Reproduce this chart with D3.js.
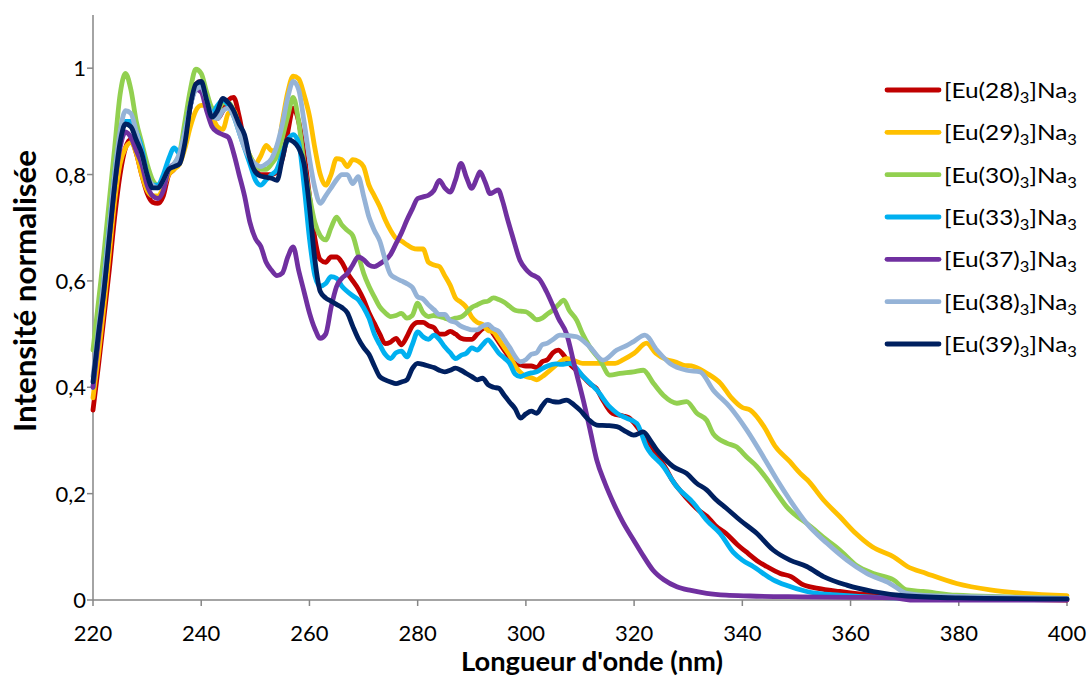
<!DOCTYPE html>
<html>
<head>
<meta charset="utf-8">
<script src="https://cdn.jsdelivr.net/npm/d3@7"></script>
<style>
  html, body { margin: 0; padding: 0; background: #fff; }
  svg { display: block; }
  text { font-family: Lato, "Open Sans", sans-serif; fill: #000; }
</style>
</head>
<body>
<svg id="chart" width="1089" height="677"></svg>
<script>
// ---------- DATA ----------
const xTicks = [220, 240, 260, 280, 300, 320, 340, 360, 380, 400];
const yTicks = [0, 0.2, 0.4, 0.6, 0.8, 1];
const yTickLabels = ["0", "0,2", "0,4", "0,6", "0,8", "1"];
const seriesNames = ["28", "29", "30", "33", "37", "38", "39"];
const seriesColors = ["#C00000", "#FFC000", "#92D050", "#00B0F0", "#7030A0", "#95B3D7", "#002060"];
const xTitle = "Longueur d'onde (nm)";
const yTitle = "Intensité normalisée";

const eu28 = [[220,.357],[221,.44],[222,.53],[223,.62],[224,.72],[225,.80],[226,.85],[227,.866],[228,.84],[229,.80],[230,.765],[231,.748],[232,.746],[233,.76],[234,.80],[235,.81],[236,.83],[237,.87],[238,.93],[239,.97],[240,.975],[241,.95],[242,.915],[243,.905],[244,.92],[245,.94],[246,.945],[247,.91],[248,.86],[249,.83],[250,.81],[251,.80],[252,.80],[253,.80],[254,.805],[255,.83],[256,.88],[257,.925],[258,.90],[259,.84],[260,.76],[261,.68],[262,.64],[263,.635],[264,.645],[265,.645],[266,.635],[267,.615],[268,.60],[269,.585],[270,.565],[271,.54],[272,.52],[273,.50],[274,.482],[275,.485],[276,.492],[277,.48],[278,.495],[279,.515],[280,.522],[281,.522],[282,.516],[283,.512],[284,.50],[285,.50],[286,.505],[287,.50],[288,.492],[289,.49],[290,.49],[291,.50],[292,.51],[293,.514],[294,.50],[295,.485],[296,.47],[297,.455],[298,.445],[299,.442],[300,.44],[301,.44],[302,.437],[303,.448],[304,.452],[305,.465],[306,.47],[307,.46],[308,.445],[310,.426],[312,.405],[313,.398],[314,.38],[316,.351],[318,.346],[319,.343],[321,.32],[322.5,.30],[324,.276],[326,.245],[327,.226],[329,.20],[330,.188],[332,.168],[333.5,.157],[335,.14],[337,.125],[339,.105],[341,.088],[343,.072],[344.5,.063],[347,.05],[349,.044],[351,.03],[354,.022],[358,.016],[364,.009],[370,.005],[380,.003],[400,.0]];

const eu29 = [[220,.38],[221,.46],[222,.55],[223,.65],[224,.75],[225,.82],[226,.85],[227,.86],[228,.84],[229,.80],[230,.77],[231,.76],[232,.76],[233,.775],[234,.80],[235,.81],[236,.82],[237,.85],[238,.89],[239,.92],[240,.93],[241,.93],[242,.91],[243,.89],[244,.885],[245,.915],[246,.92],[247,.89],[248,.86],[249,.835],[250,.82],[251,.835],[252,.855],[253,.845],[254,.845],[255,.90],[256,.955],[257,.985],[258,.98],[259,.95],[260,.91],[261,.85],[262,.80],[263,.78],[264,.80],[265,.83],[266,.828],[267,.815],[268,.828],[269,.825],[270,.815],[271,.78],[272,.76],[273,.74],[274,.715],[275,.695],[276,.68],[277,.675],[278,.668],[279,.662],[280,.66],[281,.66],[282,.635],[283,.63],[284,.627],[285,.61],[286,.592],[287,.568],[288,.56],[289,.55],[290,.532],[291,.522],[292,.518],[293,.507],[294,.504],[295,.49],[296,.475],[297,.46],[298,.44],[299,.428],[300,.42],[301,.418],[302,.414],[303,.42],[304,.428],[306,.445],[307.5,.454],[309,.45],[310.5,.445],[313.5,.445],[316.5,.445],[318,.452],[320,.464],[322.3,.483],[324,.464],[326,.452],[327.5,.448],[329,.442],[331,.439],[333.5,.426],[336,.407],[338,.38],[340,.362],[341.5,.357],[344,.326],[346,.29],[348.8,.26],[350.7,.238],[352,.226],[355,.188],[358,.157],[361,.125],[364,.10],[368,.081],[370.5,.063],[374,.05],[379.6,.031],[385.8,.019],[392,.0126],[400,.008]];

const eu30 = [[220,.47],[221,.56],[222,.65],[223,.75],[224,.85],[225,.95],[226,.99],[227,.96],[228,.90],[229,.86],[230,.82],[231,.79],[232,.78],[233,.79],[234,.81],[235,.82],[236,.84],[237,.90],[238,.96],[239,.998],[240,.99],[241,.955],[242,.925],[243,.92],[244,.935],[245,.935],[246,.92],[247,.89],[248,.86],[249,.835],[250,.818],[251,.81],[252,.81],[253,.82],[254,.835],[255,.87],[256,.91],[257,.945],[258,.90],[259,.82],[260,.76],[261,.71],[262,.685],[263,.677],[264,.70],[265,.72],[266,.705],[267,.695],[268,.685],[269,.65],[270,.615],[271,.59],[272,.57],[273,.551],[274,.54],[275,.533],[276,.535],[277,.539],[278,.53],[279,.535],[280,.558],[281,.54],[282,.533],[283,.535],[284,.533],[285,.53],[286,.527],[287,.53],[288,.532],[289,.54],[290,.55],[291,.555],[292,.56],[293,.562],[294,.568],[295,.565],[296,.56],[297,.552],[298,.545],[299,.543],[300,.542],[301,.535],[302,.527],[303,.53],[304,.538],[305,.545],[306,.555],[307,.564],[308,.545],[309.4,.526],[310.5,.50],[311.8,.476],[313.7,.451],[315.5,.423],[317.4,.426],[319.9,.429],[321.7,.432],[323.6,.407],[325.4,.385],[327.9,.37],[329.7,.373],[331.6,.351],[333.4,.338],[334.6,.313],[337.1,.295],[338.9,.288],[340.8,.269],[342.7,.251],[344.5,.228],[346.4,.20],[348.2,.175],[350,.158],[351.9,.144],[355.6,.113],[358,.094],[361.1,.065],[364.2,.05],[367.9,.038],[370.4,.019],[373.4,.016],[379.6,.009],[388.9,.006],[400,.003]];

const eu33 = [[220,.40],[221,.50],[222,.60],[223,.70],[224,.80],[225,.87],[226,.90],[227,.90],[228,.88],[229,.85],[230,.80],[231,.78],[232,.78],[233,.80],[234,.83],[235,.85],[236,.84],[237,.88],[238,.93],[239,.965],[240,.97],[241,.94],[242,.915],[243,.93],[244,.94],[245,.93],[246,.91],[247,.88],[248,.85],[249,.82],[250,.79],[251,.78],[252,.79],[253,.80],[254,.81],[255,.84],[256,.865],[257,.875],[258,.86],[259,.78],[260,.68],[261,.61],[262,.59],[263,.595],[264,.608],[265,.605],[266,.59],[267,.58],[268,.572],[269,.565],[270,.55],[271,.53],[272,.50],[273,.48],[274,.462],[275,.454],[276,.465],[277,.468],[278,.457],[279,.48],[280,.504],[281,.495],[282,.49],[283,.498],[284,.49],[285,.476],[286,.465],[287,.454],[288,.46],[289,.464],[290,.474],[291,.47],[292,.48],[293,.489],[294,.478],[295,.464],[296,.455],[297,.445],[298,.425],[299,.42],[300,.424],[301,.427],[302,.429],[303,.435],[304,.44],[305.5,.444],[306.5,.443],[308.2,.445],[310.6,.42],[313.1,.395],[315.5,.363],[317,.35],[318.6,.342],[320.5,.332],[322.3,.288],[325.4,.251],[327.9,.213],[331,.182],[333.4,.15],[335.9,.125],[338.3,.09],[340,.075],[342,.063],[345.7,.038],[348,.028],[351.9,.016],[358,.009],[365,.005],[380,.003],[400,.002]];

const eu37 = [[220,.40],[221,.49],[222,.58],[223,.68],[224,.78],[225,.85],[226,.88],[227,.87],[228,.845],[229,.82],[230,.78],[231,.76],[232,.755],[233,.77],[234,.81],[235,.82],[236,.83],[237,.87],[238,.93],[239,.96],[240,.955],[241,.92],[242,.89],[243,.88],[244,.875],[245,.87],[246,.84],[247,.80],[248,.76],[249,.71],[250,.68],[251,.665],[252,.635],[253,.62],[254,.61],[255,.615],[256,.645],[257,.664],[258,.62],[259,.58],[260,.54],[261,.51],[262,.492],[263,.50],[264,.55],[265,.589],[266,.605],[267,.614],[268,.63],[269,.645],[270,.64],[271,.63],[272,.627],[273,.632],[274,.639],[275,.65],[276,.67],[277,.69],[278,.714],[279,.735],[280,.755],[281,.758],[282,.761],[283,.77],[284,.789],[285,.775],[286,.767],[287,.79],[288,.821],[289,.795],[290,.774],[291,.795],[291.5,.805],[292.5,.785],[293.4,.764],[294.2,.768],[294.9,.771],[295.7,.75],[296.5,.72],[297.5,.685],[298.9,.639],[300,.622],[300.8,.614],[302.6,.602],[303.8,.58],[305.1,.551],[306,.53],[307.5,.501],[309,.44],[310.6,.376],[311.9,.318],[313.1,.263],[314.6,.22],[316.2,.182],[318,.145],[319.9,.113],[321.7,.083],[323.5,.056],[325.5,.038],[327.9,.025],[330.5,.018],[333.4,.0126],[337,.009],[341.4,.0075],[350.7,.006],[360,.005],[368,.004],[371,.0],[380,.0],[400,.0]];

const eu38 = [[220,.42],[221,.51],[222,.60],[223,.70],[224,.80],[225,.88],[226,.92],[227,.915],[228,.88],[229,.84],[230,.80],[231,.78],[232,.775],[233,.79],[234,.81],[235,.82],[236,.84],[237,.88],[238,.93],[239,.96],[240,.965],[241,.94],[242,.91],[243,.905],[244,.92],[245,.925],[246,.91],[247,.88],[248,.85],[249,.83],[250,.82],[251,.815],[252,.82],[253,.83],[254,.855],[255,.895],[256,.945],[257,.975],[258,.96],[259,.90],[260,.83],[261,.775],[262,.746],[263,.76],[264,.775],[265,.79],[266,.80],[267,.80],[268,.783],[269,.796],[270,.76],[271,.72],[272,.695],[273,.675],[274,.64],[275,.612],[276,.605],[277,.60],[278,.595],[279,.588],[280,.57],[281,.566],[282,.555],[283,.546],[284,.537],[285,.537],[286,.525],[287,.522],[288,.515],[289,.511],[290,.508],[291,.508],[292,.515],[293,.518],[294,.51],[295,.505],[296,.49],[297,.475],[298,.458],[299,.448],[300,.452],[301,.462],[302,.465],[303,.48],[304,.483],[305,.49],[306.3,.498],[308,.497],[309.4,.495],[311.8,.476],[314.3,.451],[316.8,.47],[318.5,.478],[319.9,.486],[322,.498],[324.2,.47],[326.6,.445],[329.7,.432],[332.2,.429],[334.6,.395],[337.7,.363],[340.8,.32],[343.9,.269],[346.4,.226],[348.8,.188],[351.9,.144],[355.6,.107],[359.3,.075],[363,.05],[367.3,.031],[370.4,.0126],[375,.008],[390,.005],[400,.003]];

const eu39 = [[220,.41],[221,.50],[222,.58],[223,.68],[224,.78],[225,.86],[226,.895],[227,.89],[228,.865],[229,.84],[230,.80],[231,.775],[232,.775],[233,.79],[234,.81],[235,.815],[236,.82],[237,.86],[238,.93],[239,.97],[240,.975],[241,.94],[242,.908],[243,.92],[244,.943],[245,.935],[246,.92],[247,.895],[248,.875],[249,.83],[250,.805],[251,.797],[252,.795],[253,.793],[254,.789],[255,.83],[256,.866],[257,.862],[258,.85],[259,.82],[260,.74],[261,.64],[262,.58],[263,.568],[264,.562],[265,.556],[266,.55],[267,.54],[268,.515],[269,.492],[270,.475],[271,.462],[272,.44],[273,.42],[274,.414],[275,.41],[276,.407],[277,.41],[278,.414],[279,.435],[280,.445],[281,.443],[282,.44],[283,.437],[284,.432],[285,.429],[286,.432],[287,.436],[288,.432],[289,.426],[290,.42],[291,.414],[292,.417],[293,.405],[294,.40],[295,.398],[296,.385],[297,.372],[298,.36],[299,.342],[300,.35],[301,.355],[302,.351],[303,.365],[304,.376],[305,.373],[306,.372],[307.5,.376],[309,.366],[310,.357],[311.5,.34],[313.1,.329],[315,.328],[316.8,.326],[318.6,.316],[319.9,.31],[321.7,.316],[323,.30],[324.2,.282],[326,.262],[327.2,.251],[329.7,.238],[331.5,.22],[333.4,.207],[335,.19],[337.1,.172],[339.6,.15],[342.7,.125],[345.7,.094],[348.8,.075],[351.9,.063],[355,.044],[359.3,.028],[364.2,.016],[370.4,.0075],[380,.004],[400,.002]];

const seriesData = [eu28, eu29, eu30, eu33, eu37, eu38, eu39];

// ---------- LAYOUT ----------
const svg = d3.select("#chart");
const plot = { left: 93, right: 1067, top: 15, bottom: 600 };

const x = d3.scaleLinear().domain([220, 400]).range([plot.left, plot.right]);
const y = d3.scaleLinear().domain([0, 1.1]).range([plot.bottom, plot.top]);

const axisColor = "#868686";

// helper: scale font-size so the text fits a target width
function fitWidth(sel, target) {
  sel.each(function () {
    const t = d3.select(this);
    const fs = parseFloat(t.attr("font-size"));
    const w = this.getComputedTextLength();
    if (w > 0) t.attr("font-size", (fs * target / w).toFixed(2));
  });
}

// Y axis
const yAxis = svg.append("g");
yAxis.append("line")
  .attr("x1", plot.left).attr("x2", plot.left)
  .attr("y1", plot.top).attr("y2", plot.bottom)
  .attr("stroke", axisColor).attr("stroke-width", 1.5);
yAxis.selectAll("line.tick").data(yTicks).enter().append("line")
  .attr("class", "tick")
  .attr("x1", plot.left - 6).attr("x2", plot.left)
  .attr("y1", d => y(d)).attr("y2", d => y(d))
  .attr("stroke", axisColor).attr("stroke-width", 1.5);
yAxis.selectAll("text").data(yTicks).enter().append("text")
  .attr("x", 86).attr("y", d => y(d) + 8)
  .attr("text-anchor", "end")
  .attr("font-size", 22)
  .text((d, i) => yTickLabels[i]);

// X axis
const xAxis = svg.append("g");
xAxis.append("line")
  .attr("x1", plot.left).attr("x2", plot.right)
  .attr("y1", plot.bottom).attr("y2", plot.bottom)
  .attr("stroke", axisColor).attr("stroke-width", 1.5);
xAxis.selectAll("line.tick").data(xTicks).enter().append("line")
  .attr("class", "tick")
  .attr("x1", d => x(d)).attr("x2", d => x(d))
  .attr("y1", plot.bottom).attr("y2", plot.bottom + 6)
  .attr("stroke", axisColor).attr("stroke-width", 1.5);
xAxis.selectAll("text").data(xTicks).enter().append("text")
  .attr("x", d => x(d)).attr("y", 641)
  .attr("text-anchor", "middle")
  .attr("font-size", 22)
  .text(d => d);

// Titles
const xt = svg.append("text")
  .attr("x", 592).attr("y", 671)
  .attr("text-anchor", "middle")
  .attr("font-weight", "bold")
  .attr("font-size", 24)
  .text(xTitle);
fitWidth(xt, 262);

const yt = svg.append("text")
  .attr("transform", "translate(36,291) rotate(-90)")
  .attr("text-anchor", "middle")
  .attr("font-weight", "bold")
  .attr("font-size", 26)
  .text(yTitle);
fitWidth(yt, 282);

// Lines
const line = d3.line()
  .x(d => x(d[0]))
  .y(d => y(d[1]))
  .curve(d3.curveMonotoneX);

svg.append("g").selectAll("path").data(seriesData).enter().append("path")
  .attr("d", line)
  .attr("fill", "none")
  .attr("stroke", (d, i) => seriesColors[i])
  .attr("stroke-width", 4.8)
  .attr("stroke-linejoin", "round")
  .attr("stroke-linecap", "round");

// Legend
const legend = svg.append("g");
const legY = d3.scaleLinear().domain([0, 6]).range([90, 344]);
const items = legend.selectAll("g").data(seriesNames).enter().append("g")
  .attr("transform", (d, i) => `translate(0,${legY(i)})`);
items.append("line")
  .attr("x1", 887).attr("x2", 939)
  .attr("y1", 0).attr("y2", 0)
  .attr("stroke", (d, i) => seriesColors[i])
  .attr("stroke-width", 4.8)
  .attr("stroke-linecap", "round");
const lt = items.append("text")
  .attr("x", 0).attr("y", 0)
  .attr("font-size", 22);
lt.append("tspan").text(d => `[Eu(${d})`);
lt.append("tspan").attr("dy", 5).attr("font-size", "0.68em").text("3");
lt.append("tspan").attr("dy", -5).text("]Na");
lt.append("tspan").attr("dy", 5).attr("font-size", "0.68em").text("3");
lt.each(function () {
  const w = this.getComputedTextLength();
  const sx = w > 0 ? 133 / w : 1;
  d3.select(this).attr("transform", `translate(944,8) scale(${sx.toFixed(3)},1)`);
});
</script>
</body>
</html>
